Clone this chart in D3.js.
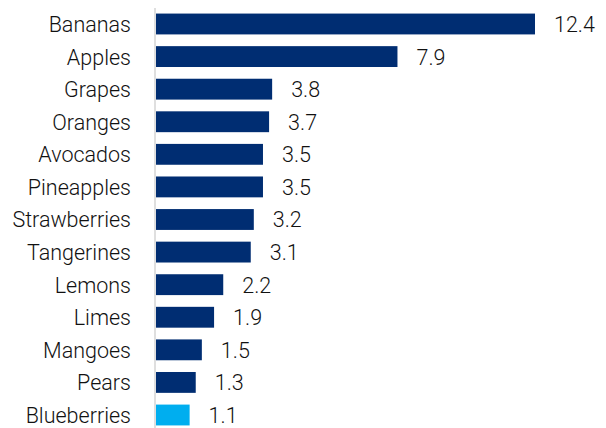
<!DOCTYPE html>
<html>
<head>
<meta charset="utf-8">
<script src="https://cdn.jsdelivr.net/npm/d3@7"></script>
<style>
  body { margin: 0; background: #fff; }
  text { font-family: Roboto, sans-serif; font-weight: 300; fill: #111; }
</style>
</head>
<body>
<svg id="chart" width="606" height="428"></svg>
<script>
const fruits = ["Bananas", "Apples", "Grapes", "Oranges", "Avocados", "Pineapples",
  "Strawberries", "Tangerines", "Lemons", "Limes", "Mangoes", "Pears", "Blueberries"];
const values = [12.4, 7.9, 3.8, 3.7, 3.5, 3.5, 3.2, 3.1, 2.2, 1.9, 1.5, 1.3, 1.1];
const highlight = ["Blueberries"];

const data = fruits.map((f, i) => ({ name: f, value: values[i] }));

const left = 156;
const svg = d3.select("#chart");

const x = d3.scaleLinear().domain([0, 12.4]).range([left, 535]);
const y = d3.scaleBand().domain(fruits).range([7.7, 431.3])
  .paddingInner(0.36).paddingOuter(0.18);

// bars
svg.selectAll(".bar").data(data).enter().append("rect")
  .attr("class", "bar")
  .attr("x", x(0))
  .attr("y", d => y(d.name))
  .attr("width", d => x(d.value) - x(0))
  .attr("height", y.bandwidth())
  .attr("fill", d => highlight.includes(d.name) ? "#00aeef" : "#002d72");

// baseline
svg.append("line")
  .attr("x1", left - 1).attr("x2", left - 1)
  .attr("y1", 8).attr("y2", 428)
  .attr("stroke", "#d4d4d4").attr("stroke-width", 1.5);

// category labels
svg.selectAll(".cat").data(data).enter().append("text")
  .attr("class", "cat")
  .attr("x", 131)
  .attr("y", d => y(d.name) + y.bandwidth() / 2)
  .attr("dy", "0.37em")
  .attr("text-anchor", "end")
  .attr("font-size", 21.5)
  .text(d => d.name);

// value labels
svg.selectAll(".val").data(data).enter().append("text")
  .attr("class", "val")
  .attr("x", d => x(d.value) + 19)
  .attr("y", d => y(d.name) + y.bandwidth() / 2)
  .attr("dy", "0.37em")
  .attr("font-size", 21.5)
  .text(d => d.value.toFixed(1));
</script>
</body>
</html>
